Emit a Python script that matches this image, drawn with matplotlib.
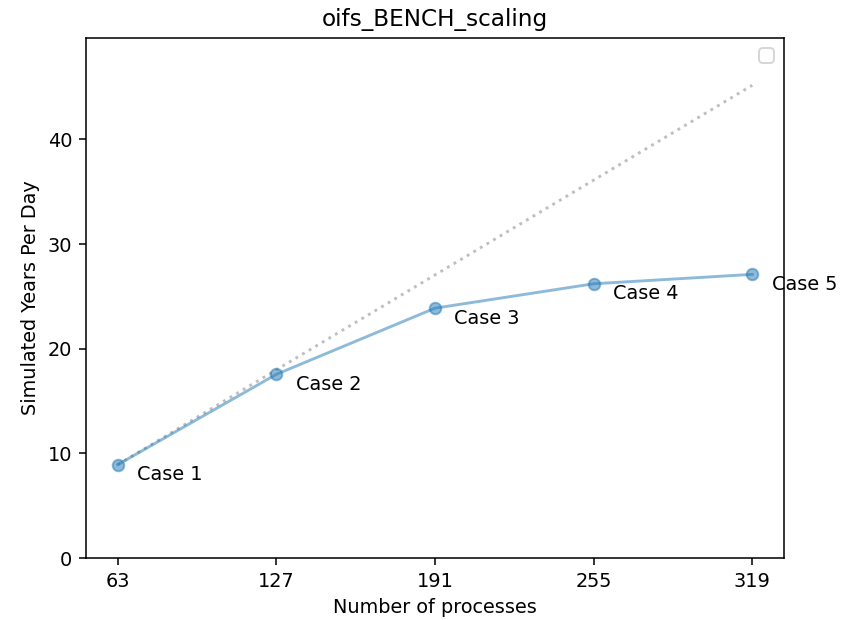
import matplotlib
matplotlib.use("Agg")
import matplotlib.pyplot as plt
import numpy as np

# processes per case and measured throughput
procs = [63, 127, 191, 255, 319]
sypd = [8.92, 17.55, 23.87, 26.2, 27.1]
labels = ["Case 1", "Case 2", "Case 3", "Case 4", "Case 5"]

# ideal linear scaling from the first case
ideal = [sypd[0] * p / procs[0] for p in procs]

DPI = 139
fig = plt.figure(figsize=(843 / DPI, 620 / DPI), dpi=DPI)
ax = fig.add_axes([86 / 843, 1 - 558 / 620, (784 - 86) / 843, (558 - 38) / 620])

ax.plot([procs[0], procs[-1]], [ideal[0], ideal[-1]], ':', color='gray', alpha=0.5)
ax.plot(procs, sypd, '-o', color='C0', alpha=0.5)

for x, y, lab in zip(procs, sypd, labels):
  ax.annotate(lab, (x, y), xytext=(10, -8), textcoords='offset points')

ax.set_xticks(procs)
ax.set_ylim(0, 1.1 * max(ideal))
ax.set_title("oifs_BENCH_scaling")
ax.set_xlabel("Number of processes")
ax.set_ylabel("Simulated Years Per Day")
ax.legend(handles=[], loc='upper right')

fig.savefig("out.png", dpi=DPI)
